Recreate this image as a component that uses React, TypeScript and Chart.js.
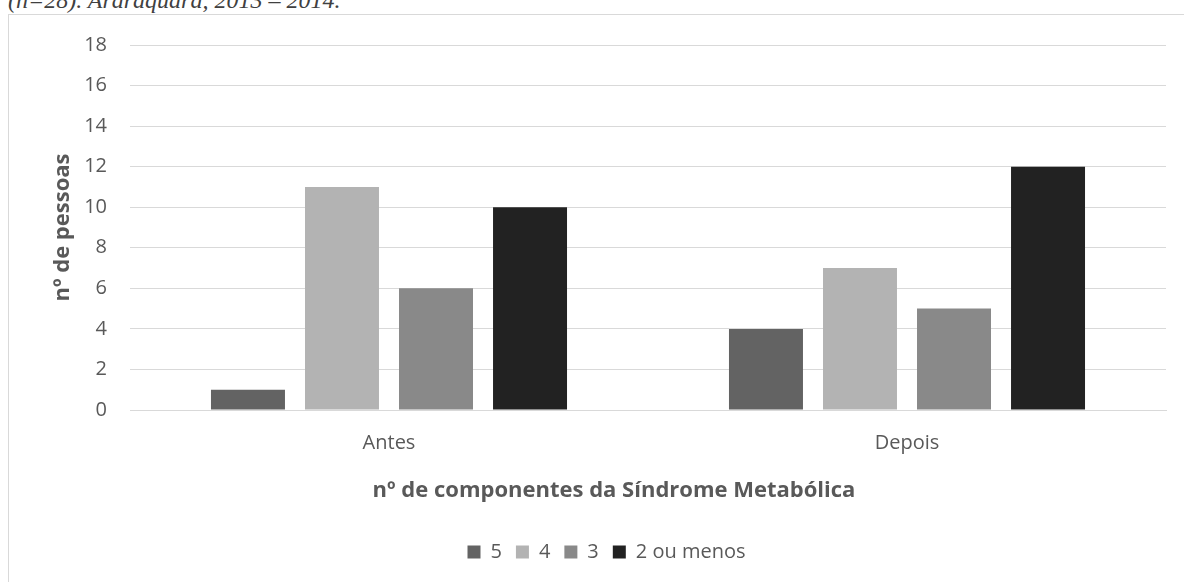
import React, { useEffect, useRef } from "react";
import { Chart, registerables } from "chart.js";

Chart.register(...registerables);

// Categories and series (number of people per count of metabolic-syndrome components)
const periods = ["Antes", "Depois"];
const seriesNames = ["5", "4", "3", "2 ou menos"];
const serie5 = [1, 4];
const serie4 = [11, 7];
const serie3 = [6, 5];
const serie2ouMenos = [10, 12];
const seriesColors = ["#636363", "#b3b3b3", "#898989", "#222222"];

const yMin = 0;
const yMax = 18;
const yStep = 2;

const caption = "(n=28). Araraquara, 2013 – 2014.";
const xTitle = "nº de componentes da Síndrome Metabólica";
const yTitle = "nº de pessoas";

const FONT = "'Open Sans', 'Noto Sans', sans-serif";
const TEXT = "#595959";
const GRID = "#d9d9d9";

// Draws the category-axis title centred on a fixed point below the tick labels
const xTitlePlugin = {
  id: "xTitleText",
  afterDraw(chart: any, _args: any, opts: any) {
    const ctx = chart.ctx;
    ctx.save();
    ctx.font = `bold ${opts.size}px ${FONT}`;
    ctx.fillStyle = opts.color;
    ctx.textAlign = "center";
    ctx.textBaseline = "middle";
    ctx.fillText(opts.text, opts.x, opts.y);
    ctx.restore();
  },
};

// Moves the legend block sideways
const legendShiftPlugin = {
  id: "legendShift",
  afterLayout(chart: any, _args: any, opts: any) {
    if (chart.legend) {
      chart.legend.left += opts.dx;
      chart.legend.right += opts.dx;
    }
  },
};

export default function App() {
  const canvasRef = useRef<HTMLCanvasElement | null>(null);

  useEffect(() => {
    if (!canvasRef.current) return;
    const values = [serie5, serie4, serie3, serie2ouMenos];
    const chart = new Chart(canvasRef.current, {
      type: "bar",
      data: {
        labels: periods,
        datasets: seriesNames.map((name, i) => ({
          label: name,
          data: values[i],
          backgroundColor: seriesColors[i],
          borderWidth: 0,
          categoryPercentage: 0.726,
          barPercentage: 0.787,
        })),
      },
      plugins: [xTitlePlugin, legendShiftPlugin],
      options: {
        responsive: false,
        animation: false,
        layout: { padding: { top: 45, left: 9, right: 18, bottom: 10 } },
        plugins: {
          legend: {
            position: "bottom",
            labels: {
              color: TEXT,
              font: { family: FONT, size: 20 },
              boxWidth: 13,
              boxHeight: 13,
              padding: 14,
            },
          },
          tooltip: { enabled: false },
          xTitleText: { text: xTitle, color: TEXT, size: 22, x: 614, y: 491 },
          legendShift: { dx: 19 },
        } as any,
        scales: {
          x: {
            grid: { display: false },
            border: { display: true, color: GRID, width: 1 },
            ticks: {
              color: TEXT,
              font: { family: FONT, size: 20 },
              padding: 13,
            },
            afterFit: (scale: any) => {
              scale.height = 118;
            },
          },
          y: {
            min: yMin,
            max: yMax,
            grid: { color: GRID, lineWidth: 1, drawTicks: false },
            border: { display: false },
            ticks: {
              stepSize: yStep,
              color: TEXT,
              font: { family: FONT, size: 20 },
              padding: 23,
            },
            title: {
              display: true,
              text: yTitle,
              color: TEXT,
              font: { family: FONT, size: 22, weight: "bold" },
              padding: { top: 41, bottom: 0 },
            },
            afterFit: (scale: any) => {
              scale.width = 121;
            },
          },
        },
      },
    });
    return () => chart.destroy();
  }, []);

  return (
    <div
      style={{
        position: "absolute",
        left: 0,
        top: 0,
        width: 1184,
        height: 582,
        overflow: "hidden",
        background: "#ffffff",
      }}
    >
      <div
        style={{
          position: "absolute",
          left: 8,
          top: -12,
          fontFamily: "'Liberation Serif', 'Times New Roman', serif",
          fontStyle: "italic",
          fontSize: 24,
          lineHeight: "24px",
          color: "#404040",
          whiteSpace: "nowrap",
        }}
      >
        {caption}
      </div>
      <div
        style={{
          position: "absolute",
          left: 8,
          top: 14,
          width: 1200,
          height: 600,
          borderLeft: `1px solid ${GRID}`,
          borderTop: `1px solid ${GRID}`,
        }}
      />
      <canvas
        ref={canvasRef}
        width={1184}
        height={582}
        style={{ position: "absolute", left: 0, top: 0, width: 1184, height: 582 }}
      />
    </div>
  );
}
